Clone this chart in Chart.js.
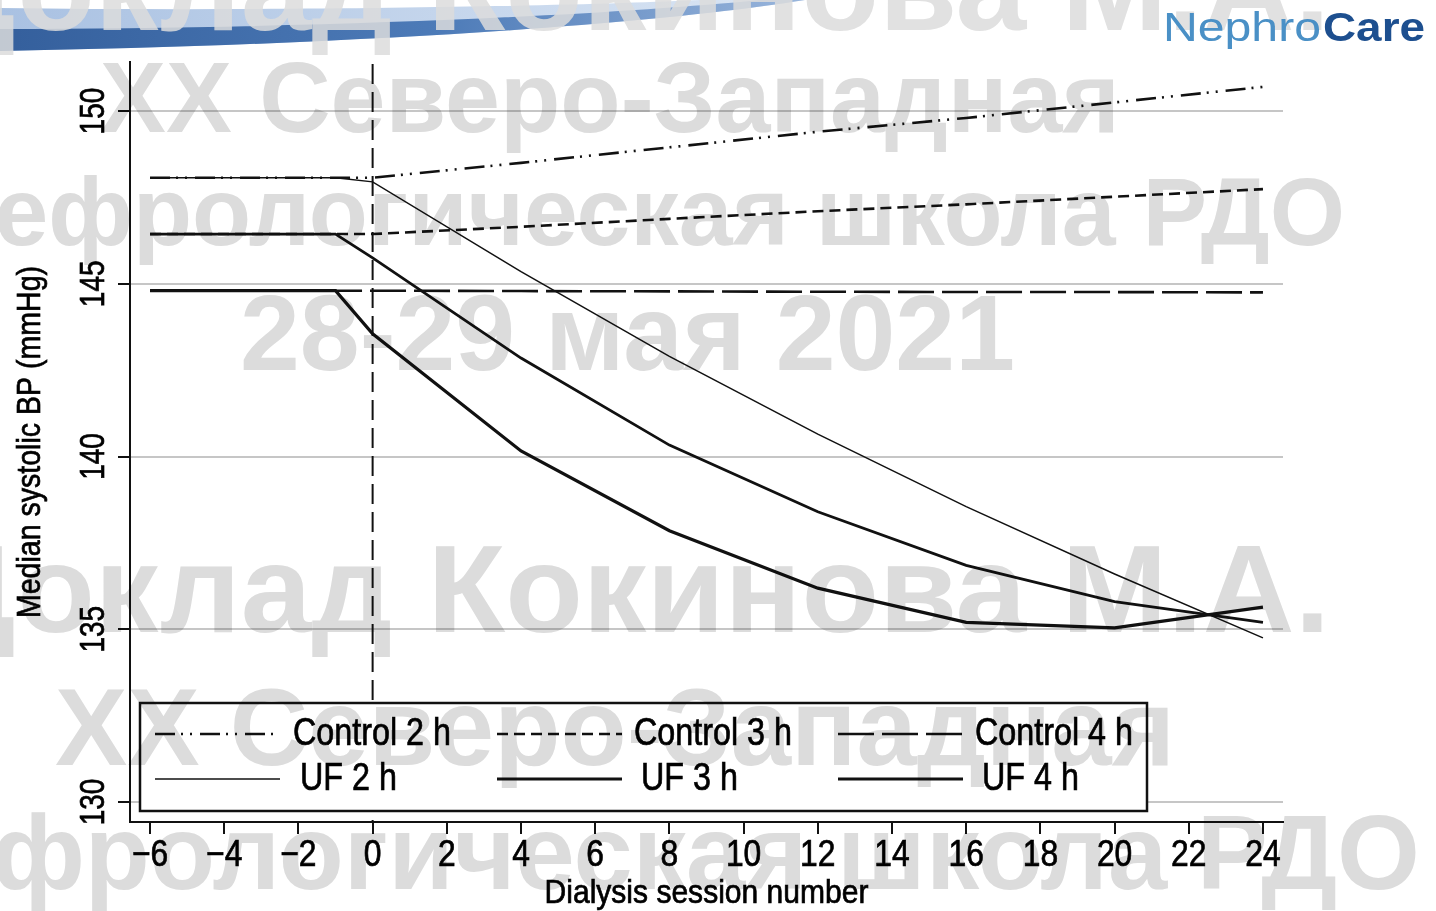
<!DOCTYPE html>
<html>
<head>
<meta charset="utf-8">
<title>Median systolic BP by dialysis session</title>
<script src="https://cdn.jsdelivr.net/npm/chart.js@4.4.1/dist/chart.umd.min.js"></script>
<style>
  html, body { margin: 0; padding: 0; background: #fff; }
  #wrap { position: relative; width: 1436px; height: 911px; overflow: hidden; background: #fff; }
  #chart { position: absolute; left: 0; top: 0; }
  .layer { position: absolute; left: 0; top: 0; pointer-events: none; }
  #stamp { mix-blend-mode: multiply; }
  .stamp text { font-family: "Liberation Sans", Arial, sans-serif; font-weight: bold; fill: #dcdcdc; }
</style>
</head>
<body>
<div id="wrap">
  <svg class="layer" id="banner" width="1436" height="911" xmlns="http://www.w3.org/2000/svg">
    <defs>
      <linearGradient id="bandDark" x1="0" y1="0" x2="1" y2="0">
        <stop offset="0" stop-color="#345f9c"/>
        <stop offset="0.55" stop-color="#4d7bb8"/>
        <stop offset="1" stop-color="#9ab6dc"/>
      </linearGradient>
      <linearGradient id="bandLight" x1="0" y1="0" x2="1" y2="0">
        <stop offset="0" stop-color="#a9c1e2"/>
        <stop offset="1" stop-color="#dbe6f4"/>
      </linearGradient>
    </defs>
    <path d="M0,8 C300,12 600,5 700,0 L805,0 C650,25 350,45 0,51 Z" fill="url(#bandLight)"/>
    <path d="M0,29 C300,29 600,16 760,0 L805,0 C650,25 350,45 0,51 Z" fill="url(#bandDark)"/>
  </svg>
  <canvas id="chart" width="1436" height="911"></canvas>
  <svg class="layer stamp" id="stamp" width="1436" height="911" xmlns="http://www.w3.org/2000/svg">
    <text x="100" y="132" font-size="100" textLength="1020" lengthAdjust="spacingAndGlyphs">XX Северо-Западная</text>
    <text x="-64" y="245" font-size="96" textLength="1409" lengthAdjust="spacingAndGlyphs">нефрологическая школа РДО</text>
    <text x="240" y="370" font-size="108" textLength="775" lengthAdjust="spacingAndGlyphs">28-29 мая 2021</text>
    <text x="-75" y="632" font-size="125" textLength="1405" lengthAdjust="spacingAndGlyphs">Доклад Кокинова М.А.</text>
    <text x="55" y="765" font-size="110" textLength="1120" lengthAdjust="spacingAndGlyphs">XX Северо-Западная</text>
    <text x="-132" y="889" font-size="105" textLength="1552" lengthAdjust="spacingAndGlyphs">нефрологическая школа РДО</text>
  </svg>
  <svg class="layer stamp" id="stampTop" width="1436" height="911" xmlns="http://www.w3.org/2000/svg">
    <text x="-75" y="30" font-size="125" textLength="1405" lengthAdjust="spacingAndGlyphs" opacity="0.85">Доклад Кокинова М.А.</text>
    <text x="1163" y="41" font-size="40" style="fill:#4a90c6;font-weight:normal" textLength="158" lengthAdjust="spacingAndGlyphs">Nephro</text>
    <text x="1323" y="41" font-size="40" style="fill:#1d4f8f" textLength="102" lengthAdjust="spacingAndGlyphs">Care</text>
  </svg>
</div>
<script>
// Session numbers (x) and median systolic BP (mmHg) per group
const sessions  = [-6, -1, 0, 4, 8, 12, 16, 20, 24];
const control2h = [148.07, 148.07, 148.07, 148.50, 148.95, 149.40, 149.80, 150.25, 150.70];
const control3h = [146.44, 146.44, 146.44, 146.65, 146.88, 147.10, 147.30, 147.52, 147.74];
const control4h = [144.80, 144.80, 144.80, 144.79, 144.78, 144.77, 144.76, 144.76, 144.75];
const uf2h      = [148.07, 148.07, 147.95, 145.35, 142.90, 140.65, 138.55, 136.60, 134.75];
const uf3h      = [146.44, 146.44, 145.75, 142.85, 140.33, 138.40, 136.85, 135.80, 135.20];
const uf4h      = [144.80, 144.80, 143.55, 140.16, 137.85, 136.19, 135.20, 135.04, 135.64];

const seriesNames = ['Control 2 h', 'Control 3 h', 'Control 4 h', 'UF 2 h', 'UF 3 h', 'UF 4 h'];

// Axis ticks
const xTicks = [-6, -4, -2, 0, 2, 4, 6, 8, 10, 12, 14, 16, 18, 20, 22, 24];
const xTickLabels = ['\u22126', '\u22124', '\u22122', '0', '2', '4', '6', '8', '10', '12', '14', '16', '18', '20', '22', '24'];
const yTicks = [130, 135, 140, 145, 150];
const yTickLabels = ['130', '135', '140', '145', '150'];

const xTitle = 'Dialysis session number';
const yTitle = 'Median systolic BP (mmHg)';

const FONT = '"Liberation Sans", Arial, sans-serif';

const toPoints = (ys) => sessions.map((x, i) => ({ x, y: ys[i] }));

const styles = [
  { borderWidth: 2.6, borderDash: [20, 6, 2, 7, 2, 8] },
  { borderWidth: 2.6, borderDash: [11, 6] },
  { borderWidth: 2.6, borderDash: [36, 8] },
  { borderWidth: 1.5, borderDash: [] },
  { borderWidth: 2.8, borderDash: [] },
  { borderWidth: 3.2, borderDash: [] }
];
const seriesValues = [control2h, control3h, control4h, uf2h, uf3h, uf4h];

const datasets = seriesValues.map((vals, i) => ({
  label: seriesNames[i],
  data: toPoints(vals),
  borderColor: '#111',
  borderWidth: styles[i].borderWidth,
  borderDash: styles[i].borderDash,
  pointRadius: 0,
  tension: 0,
  fill: false
}));

// Text drawn with a horizontal squeeze (narrow face), optionally rotated
function narrowText(ctx, text, x, y, sx, size, rot, align) {
  ctx.save();
  ctx.translate(x, y);
  if (rot) ctx.rotate(rot);
  ctx.scale(sx, 1);
  ctx.font = `${size}px ${FONT}`;
  ctx.textAlign = align || 'center';
  ctx.textBaseline = 'middle';
  ctx.fillStyle = '#000';
  ctx.strokeStyle = '#000';
  ctx.lineWidth = 0.7;
  ctx.setLineDash([]);
  ctx.fillText(text, 0, 0);
  ctx.strokeText(text, 0, 0);
  ctx.restore();
}

// Dashed reference line at session 0
const baselinePlugin = {
  id: 'baseline',
  beforeDatasetsDraw(chart) {
    const { ctx, chartArea } = chart;
    const x = chart.scales.x.getPixelForValue(0);
    ctx.save();
    ctx.strokeStyle = '#111';
    ctx.lineWidth = 2;
    ctx.setLineDash([20, 8]);
    ctx.beginPath();
    ctx.moveTo(x, chartArea.top + 2);
    ctx.lineTo(x, chartArea.bottom);
    ctx.stroke();
    ctx.restore();
  }
};

// Tick labels (x and rotated y) and axis titles
const axisTextPlugin = {
  id: 'axisText',
  afterDraw(chart) {
    const { ctx, chartArea } = chart;
    const xs = chart.scales.x;
    const ys = chart.scales.y;
    xs.ticks.forEach((t, i) => {
      narrowText(ctx, xTickLabels[i], xs.getPixelForValue(t.value), 856, 0.86, 37, 0);
    });
    ys.ticks.forEach((t, i) => {
      narrowText(ctx, yTickLabels[i], 94, ys.getPixelForValue(t.value), 0.8, 35, -Math.PI / 2);
    });
    narrowText(ctx, yTitle, 31, (chartArea.top + chartArea.bottom) / 2, 0.865, 33, -Math.PI / 2);
    narrowText(ctx, xTitle, (chartArea.left + chartArea.right) / 2, 894, 0.91, 33, 0);
  }
};

// Framed two-row legend inside the plot
const boxLegendPlugin = {
  id: 'boxLegend',
  afterDatasetsDraw(chart) {
    const ctx = chart.ctx;
    const box = { x: 140, y: 703, w: 1007, h: 108 };
    const cols = [
      { x1: 155, x2: 280, tx: 293 },
      { x1: 497, x2: 622, tx: 634 },
      { x1: 838, x2: 963, tx: 975 }
    ];
    const rows = [734, 779];
    ctx.save();
    ctx.fillStyle = '#fff';
    ctx.fillRect(box.x, box.y, box.w, box.h);
    ctx.lineWidth = 2.5;
    ctx.strokeStyle = '#111';
    ctx.setLineDash([]);
    ctx.strokeRect(box.x, box.y, box.w, box.h);
    chart.data.datasets.forEach((ds, i) => {
      const c = cols[i % 3];
      const y = rows[Math.floor(i / 3)];
      ctx.beginPath();
      ctx.setLineDash(ds.borderDash || []);
      ctx.lineWidth = ds.borderWidth;
      ctx.strokeStyle = ds.borderColor;
      ctx.moveTo(c.x1, y);
      ctx.lineTo(c.x2, y);
      ctx.stroke();
      ctx.setLineDash([]);
      narrowText(ctx, ds.label, c.tx + (i >= 3 ? 7 : 0), y + 1, 0.85, 38, 0, 'left');
    });
    ctx.restore();
  }
};

new Chart(document.getElementById('chart'), {
  type: 'line',
  data: { datasets },
  plugins: [baselinePlugin, boxLegendPlugin, axisTextPlugin],
  options: {
    responsive: false,
    animation: false,
    layout: { padding: { top: 62, right: 153, left: 0, bottom: 0 } },
    plugins: { legend: { display: false }, tooltip: { enabled: false }, title: { display: false } },
    scales: {
      x: {
        type: 'linear',
        min: -6.54,
        max: 24.54,
        afterBuildTicks: (s) => { s.ticks = xTicks.map(v => ({ value: v })); },
        afterFit: (s) => { s.height = 89; },
        border: { display: true, color: '#111', width: 2 },
        grid: { drawOnChartArea: false, drawTicks: true, tickLength: 12, tickColor: '#111', lineWidth: 2 },
        ticks: {
          autoSkip: false,
          maxRotation: 0,
          minRotation: 0,
          padding: 2,
          color: 'rgba(0,0,0,0)',
          font: { family: FONT, size: 37 },
          callback: (v, i) => xTickLabels[i]
        }
      },
      y: {
        type: 'linear',
        min: 129.42,
        max: 151.42,
        afterBuildTicks: (s) => { s.ticks = yTicks.map(v => ({ value: v })); },
        afterFit: (s) => { s.width = 130; },
        border: { display: true, color: '#111', width: 2 },
        grid: { color: '#c6c6c6', lineWidth: 2, drawTicks: true, tickLength: 12, tickColor: '#111' },
        ticks: {
          color: 'rgba(0,0,0,0)',
          font: { family: FONT, size: 35 },
          callback: (v, i) => yTickLabels[i]
        }
      }
    }
  }
});
</script>
</body>
</html>
